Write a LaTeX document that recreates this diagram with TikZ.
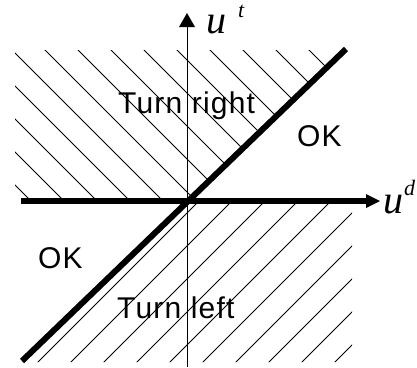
\documentclass[tikz,border=0pt]{standalone}
\usepackage{fontspec}
\setmainfont{Liberation Sans}
\newfontfamily\lblfont[LetterSpace=4]{Liberation Sans}
\newfontfamily\axfont{Liberation Serif}
\usetikzlibrary{arrows.meta}
\begin{document}
\begin{tikzpicture}[x=1pt,y=-1pt,
  hatch/.style={line width=0.8pt},
  thickline/.style={line width=6pt},
  axisthin/.style={line width=1pt},
  lbl/.style={inner sep=0pt, anchor=base west, font=\lblfont\fontsize{30}{30}\selectfont},
  axlbl/.style={inner sep=0pt, anchor=base west, font=\axfont\itshape\fontsize{40}{40}\selectfont},
  suplbl/.style={inner sep=0pt, anchor=base west, font=\axfont\itshape\fontsize{22}{22}\selectfont}]
\useasboundingbox (0,0) rectangle (417,367);
\coordinate (O) at (188,201);
\coordinate (A) at (22,361);
\coordinate (B) at (346,49);
\coordinate (hs) at (21,201);
\coordinate (he) at (380,201);
\coordinate (vs) at (187,367);
\coordinate (ve) at (187,13);
% upper hatching
\begin{scope}
\clip (15,50) -- (345,50) -- (O) -- (15,201) -- cycle;
\foreach \k in {-11,...,6} \draw[hatch] (-100,{-95+33*\k}) -- (500,{505+33*\k});
\end{scope}
% lower hatching
\begin{scope}
\clip (O) -- (352,201) -- (352,362) -- (21,362) -- cycle;
\foreach \k in {-1,...,10} \draw[hatch] (-100,{500+33*\k}) -- (500,{-100+33*\k});
\end{scope}
% thick lines
\draw[thickline] (A) -- (B);
\draw[thickline, -{Triangle[length=14pt,width=14pt,line width=0pt]}] (hs) -- (he);
\draw[axisthin, -{Triangle[length=14pt,width=16pt,line width=0pt]}] (vs) -- (ve);
% labels
\node[lbl] (tr) at (118,113) {Turn right};
\node[lbl] (tl) at (117,318) {Turn left};
\node[lbl] (ok1) at (297,146) {OK};
\node[lbl] (ok2) at (38,268) {OK};
\node[axlbl] (ut) at (206,33) {u};
\node[suplbl] (tt) at (238,17) {t};
\node[axlbl] (ud) at (383,213) {u};
\node[suplbl] (dd) at (404,195) {d};
\end{tikzpicture}
\end{document}
